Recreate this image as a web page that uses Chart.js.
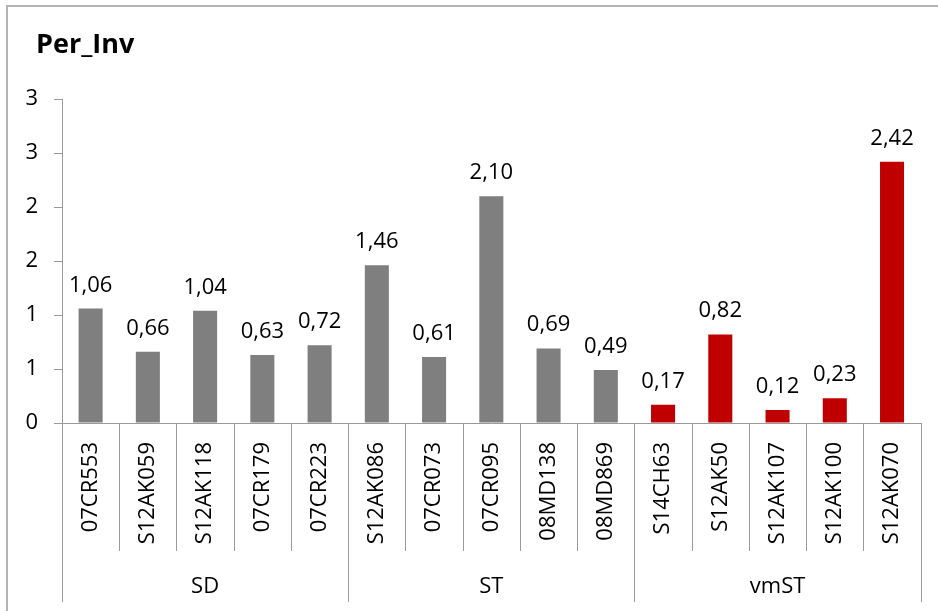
<!DOCTYPE html>
<html>
<head>
<meta charset="utf-8">
<script src="https://cdn.jsdelivr.net/npm/chart.js@4.4.1/dist/chart.umd.min.js"></script>
<style>
  html, body { margin: 0; padding: 0; background: #fff; overflow: hidden; }
  #wrap { position: relative; width: 938px; height: 611px; }
  #frame { position: absolute; left: 6px; top: 5px; width: 960px; height: 640px; border: 2px solid #b3b3b3; box-sizing: border-box; }
  #myChart { position: absolute; left: 0; top: 0; }
</style>
</head>
<body>
<div id="wrap">
  <div id="frame"></div>
  <canvas id="myChart" width="938" height="611"></canvas>
</div>
<script>
// chart data
const samples = ['07CR553', 'S12AK059', 'S12AK118', '07CR179', '07CR223',
                 'S12AK086', '07CR073', '07CR095', '08MD138', '08MD869',
                 'S14CH63', 'S12AK50', 'S12AK107', 'S12AK100', 'S12AK070'];
const perInv = [1.06, 0.66, 1.04, 0.63, 0.72,
                1.46, 0.61, 2.10, 0.69, 0.49,
                0.17, 0.82, 0.12, 0.23, 2.42];
const groups = ['SD', 'ST', 'vmST'];
const groupSizes = [5, 5, 5];
const groupColors = ['#7f7f7f', '#7f7f7f', '#c00000'];
const yTickLabels = ['0', '1', '1', '2', '2', '3', '3'];
const chartTitle = 'Per_Inv';

const FONT = '"Open Sans", "Liberation Sans", sans-serif';
const LINE = '#9a9a9a';

// one colour per bar, taken from its group
const barColors = [];
groups.forEach((g, i) => {
    for (let k = 0; k < groupSizes[i]; k++) barColors.push(groupColors[i]);
});

// title, value labels, category separators and group row
const excelBits = {
    id: 'excelBits',
    afterDatasetsDraw(chart) {
        const ctx = chart.ctx;
        const meta = chart.getDatasetMeta(0);
        ctx.save();
        ctx.fillStyle = '#000';
        ctx.font = '22px ' + FONT;
        ctx.textAlign = 'center';
        ctx.textBaseline = 'alphabetic';
        meta.data.forEach((bar, i) => {
            const txt = perInv[i].toFixed(2).replace('.', ',');
            ctx.fillText(txt, bar.x, bar.y - 17);
        });
        ctx.restore();
    },
    afterDraw(chart) {
        const ctx = chart.ctx;
        const x = chart.scales.x;
        const area = chart.chartArea;
        ctx.save();

        // title
        ctx.fillStyle = '#000';
        ctx.font = 'bold 27px ' + FONT;
        ctx.textAlign = 'left';
        ctx.textBaseline = 'alphabetic';
        ctx.fillText(chartTitle, 36, 53);

        // separators
        const groupEdges = [0];
        groupSizes.forEach(n => groupEdges.push(groupEdges[groupEdges.length - 1] + n));
        ctx.strokeStyle = LINE;
        ctx.lineWidth = 1;
        for (let i = 0; i <= samples.length; i++) {
            const px = Math.round(x.getPixelForValue(i - 0.5)) + 0.5;
            const bottom = groupEdges.includes(i) ? 602 : 551;
            ctx.beginPath();
            ctx.moveTo(px, area.bottom);
            ctx.lineTo(px, bottom);
            ctx.stroke();
        }

        // group labels
        ctx.font = '22px ' + FONT;
        ctx.textAlign = 'center';
        ctx.textBaseline = 'middle';
        groups.forEach((g, i) => {
            const a = x.getPixelForValue(groupEdges[i] - 0.5);
            const b = x.getPixelForValue(groupEdges[i + 1] - 0.5);
            ctx.fillText(g, (a + b) / 2, 587);
        });
        ctx.restore();
    }
};

document.addEventListener('DOMContentLoaded', function () {
    const ctx = document.getElementById('myChart');

    new Chart(ctx.getContext('2d'), {
        type: 'bar',
        data: {
            labels: samples,
            datasets: [{
                label: chartTitle,
                data: perInv,
                backgroundColor: barColors,
                borderWidth: 0,
                barPercentage: 0.42,
                categoryPercentage: 1.0
            }]
        },
        options: {
            responsive: false,
            animation: false,
            layout: { padding: { left: 0, right: 17, top: 99, bottom: 0 } },
            plugins: {
                legend: { display: false },
                tooltip: { enabled: false }
            },
            scales: {
                x: {
                    offset: true,
                    grid: { display: false, drawTicks: false },
                    border: { display: true, color: LINE, width: 1 },
                    ticks: {
                        autoSkip: false,
                        minRotation: 90,
                        maxRotation: 90,
                        padding: 19,
                        color: '#000',
                        font: { family: FONT, size: 22 }
                    },
                    afterFit(scale) { scale.height = 188; }
                },
                y: {
                    min: 0,
                    max: 3,
                    grid: { drawOnChartArea: false, drawTicks: true, tickLength: 8, color: LINE },
                    border: { display: true, color: LINE, width: 1 },
                    ticks: {
                        stepSize: 0.5,
                        padding: 16,
                        color: '#000',
                        font: { family: FONT, size: 22 },
                        callback: (v, i) => yTickLabels[i]
                    },
                    afterFit(scale) { scale.width = 62; }
                }
            }
        },
        plugins: [excelBits]
    });
});
</script>
</body>
</html>
